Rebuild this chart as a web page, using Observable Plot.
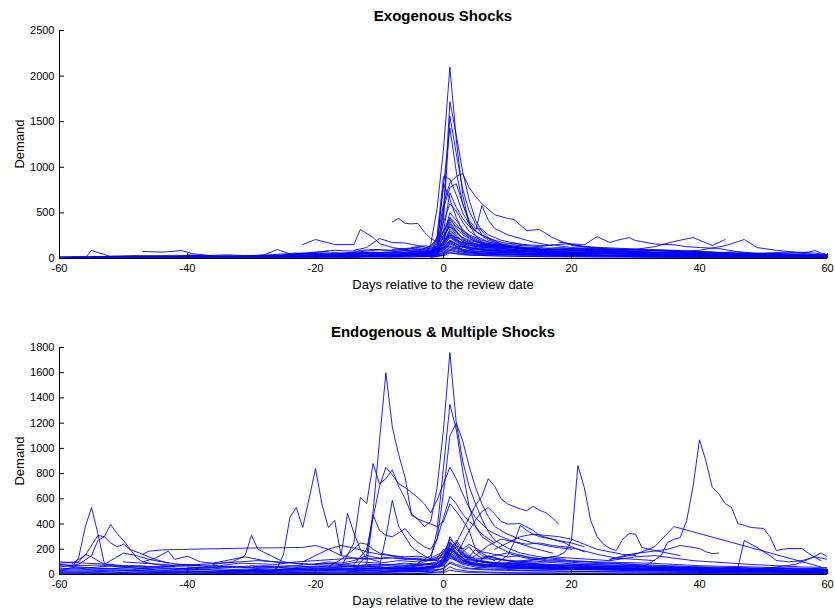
<!DOCTYPE html>
<html>
<head>
<meta charset="utf-8">
<script src="https://cdn.jsdelivr.net/npm/d3@7"></script>
<script src="https://cdn.jsdelivr.net/npm/@observablehq/plot@0.6"></script>
<style>
  html, body { margin: 0; padding: 0; background: #fff; }
  #wrap { position: relative; width: 835px; height: 613px; background: #fff; overflow: hidden;
          font-family: "Liberation Sans", Arial, Helvetica, sans-serif; }
  .panel { position: absolute; left: 0; }
  #overlay { position: absolute; left: 0; top: 0; pointer-events: none; }
</style>
</head>
<body>
<div id="wrap">
  <div class="panel" id="top" style="top:0px"></div>
  <div class="panel" id="bottom" style="top:300px"></div>
</div>
<script>
// ---------------- tick labels ----------------
const xTicks = [-60, -40, -20, 0, 20, 40, 60];
const exoYTicks = [0, 500, 1000, 1500, 2000, 2500];
const endoYTicks = [0, 200, 400, 600, 800, 1000, 1200, 1400, 1600, 1800];

const exoTitle = "Exogenous Shocks";
const endoTitle = "Endogenous & Multiple Shocks";
const xLabel = "Days relative to the review date";
const yLabel = "Demand";

// ---------------- Exogenous shocks: series of [day, demand] ----------------
const exoBigSpikes = [
  [[-5,30],[-3,40],[-2,150],[-1,550],[0,1200],[1,2100],[2,1300],[3,700],[4,380],[5,250],[6,180],[8,130],[10,100],[13,80],[16,65],[20,55]],
  [[-4,20],[-2,40],[-1,120],[0,500],[1,1720],[2,1350],[3,950],[4,650],[5,420],[6,300],[7,230],[9,160],[12,120],[15,90],[19,70],[24,55]],
  [[-3,30],[-1,90],[0,420],[1,1560],[2,1150],[3,760],[4,520],[5,380],[6,260],[8,180],[10,130],[14,90],[18,70]],
  [[-2,40],[-1,200],[0,800],[1,1430],[2,950],[3,600],[4,400],[5,300],[7,200],[10,140],[14,100]],
  [[-3,60],[-1,200],[0,600],[1,830],[2,900],[3,930],[4,780],[5,680],[6,600],[8,480],[10,440],[11,427],[13,307],[15,318],[17,230],[19,170],[22,130],[25,110]]
];
const exoMidSpikes = [
  [[-2,50],[-1,250],[0,900],[1,870],[2,700],[3,500],[4,380],[5,300],[7,220],[9,180],[12,140]],
  [[-1,100],[0,550],[1,780],[2,820],[3,600],[4,420],[5,330],[6,320],[7,260],[9,200],[11,170],[13,150]],
  [[-1,150],[0,820],[1,650],[2,450],[3,300],[4,220],[6,160],[8,120]],
  [[-2,30],[0,300],[1,720],[2,560],[3,440],[4,350],[5,300],[6,580],[7,420],[8,330],[10,260],[12,220],[14,180],[17,140]],
  [[-1,80],[0,400],[1,600],[2,520],[3,400],[4,300],[5,250],[7,180],[10,130],[15,100]],
  [[-1,60],[0,250],[1,500],[2,420],[3,320],[4,250],[6,180],[8,150],[11,120]],
  [[0,200],[1,450],[2,380],[3,280],[5,200],[7,150],[10,110]],
  [[-4,80],[-2,140],[0,300],[1,420],[2,350],[4,260],[6,200],[9,150],[12,120],[15,110]]
];
const exoScattered = [
  [[-8,400],[-7,440],[-6,385],[-5,380],[-4,385],[-3,290],[-2,220],[-1,180],[0,250],[1,350],[2,300],[3,220],[5,160],[8,120]],
  [[-22,153],[-20,208],[-17,153],[-14,153],[-13,318],[-11,230],[-10,164],[-8,120],[-5,90],[-2,80],[0,120],[1,200],[3,120]],
  [[-14,90],[-12,120],[-10,219],[-8,175],[-6,170],[-4,142],[-2,110],[0,160],[1,250],[2,200],[4,140]],
  [[-30,30],[-28,40],[-26,99],[-24,50],[-21,60],[-18,80]],
  [[-56,5],[-55,88],[-52,22],[-48,15],[-44,20]],
  [[-47,77],[-44,70],[-42,80],[-41,88],[-39,50],[-36,30]],
  [[18,180],[20,160],[22,150],[24,240],[26,175],[27,197],[29,230],[30,197],[33,160],[36,150],[38,130],[40,120],[43,110],[47,60],[50,40]],
  [[20,140],[25,110],[30,100],[33,130],[36,186],[39,230],[42,142],[44,208]],
  [[35,60],[40,90],[44,140],[47,208],[49,120],[52,90],[55,70],[58,60],[60,40]],
  [[50,50],[54,60],[57,70],[58,88],[59,60],[60,40]]
];
const exoLowBand = [
  [[-60,5],[-55,10],[-50,15],[-45,20],[-40,25],[-35,30],[-30,25],[-25,35],[-20,45],[-15,50],[-10,60],[-5,70],[-2,80],[0,150],[1,300],[2,220],[3,160],[5,130],[8,110],[12,100],[16,95],[20,90],[25,80],[30,70],[35,65],[40,55],[45,50],[50,40],[55,30],[60,25]],
  [[-58,15],[-52,20],[-46,12],[-40,30],[-36,20],[-30,35],[-26,30],[-22,50],[-18,40],[-14,70],[-10,55],[-6,90],[-3,60],[-1,110],[0,250],[1,350],[2,260],[3,180],[4,150],[6,120],[9,140],[12,110],[15,100],[18,120],[22,100],[26,90],[30,100],[34,80],[38,70],[42,60],[46,75],[50,50],[54,45],[58,40],[60,30]],
  [[-50,8],[-44,10],[-38,20],[-32,15],[-28,25],[-24,20],[-20,30],[-16,45],[-12,40],[-8,50],[-4,45],[-2,60],[0,120],[1,200],[2,160],[4,100],[6,90],[10,70],[14,60],[18,55],[24,50],[30,45],[36,40],[42,35],[48,30],[54,20],[60,15]],
  [[-40,40],[-38,35],[-35,25],[-30,20],[-25,40],[-20,70],[-17,90],[-14,80],[-11,100],[-8,90],[-5,110],[-3,100],[-1,130],[0,180],[1,260],[2,200],[3,170],[5,160],[7,150],[10,130],[13,150],[16,140],[19,160],[22,130],[25,120],[28,110],[32,100],[36,90],[40,80],[44,60],[48,50],[52,45],[56,35],[60,20]],
  [[-30,10],[-25,15],[-20,25],[-15,20],[-10,30],[-6,25],[-3,40],[-1,60],[0,100],[1,140],[2,110],[3,80],[5,60],[8,50],[12,40],[16,35],[20,30],[26,25],[32,20],[40,18],[50,12],[60,10]],
  [[-25,30],[-22,45],[-19,60],[-16,50],[-13,75],[-10,95],[-7,80],[-4,100],[-2,90],[0,140],[1,230],[2,180],[3,150],[4,130],[6,110],[8,100],[11,90],[14,85],[17,80],[20,75],[24,70],[28,65],[33,60],[38,50],[43,45],[48,40],[53,35],[58,30]],
  [[-20,20],[-17,30],[-14,25],[-11,40],[-8,35],[-5,55],[-2,45],[0,80],[1,160],[2,130],[3,100],[4,85],[6,70],[9,65],[13,55],[17,60],[21,50],[25,55],[30,45],[35,40],[40,35],[45,30],[50,25],[55,20],[60,15]],
  [[-15,60],[-12,55],[-9,70],[-6,65],[-3,80],[-1,90],[0,170],[1,320],[2,240],[3,190],[4,160],[5,140],[7,120],[9,110],[12,95],[15,90],[18,85],[22,80],[26,70],[30,75],[35,65],[40,60],[45,55],[50,45],[55,40]],
  [[-10,40],[-7,50],[-4,60],[-2,70],[-1,90],[0,190],[1,400],[2,300],[3,210],[4,170],[5,150],[7,130],[9,120],[12,110],[16,100],[20,95],[24,90],[28,85],[32,70],[36,60],[40,50]],
  [[-55,20],[-50,25],[-45,30],[-42,35],[-38,30],[-34,40],[-30,30],[-26,45],[-23,60],[-20,50],[-17,65],[-14,55],[-11,70],[-8,60],[-5,75],[-3,70],[-1,80],[0,110],[1,170],[2,140],[4,110],[7,90],[10,80],[14,75],[18,70],[22,65],[27,60],[32,55],[37,50],[42,45],[47,40],[52,35],[57,30],[60,28]],
  [[-8,100],[-6,110],[-4,120],[-2,100],[-1,130],[0,300],[1,450],[2,330],[3,260],[4,220],[5,190],[6,170],[8,150],[10,135],[13,125],[16,115],[19,110],[22,100],[26,95],[30,90],[34,85],[38,75],[42,70],[46,60],[50,55],[54,50],[58,45],[60,40]],
  [[0,60],[1,130],[2,120],[3,90],[5,80],[8,70],[12,60],[16,50],[20,45],[25,40],[30,35],[35,30],[40,28],[45,25],[50,20],[55,18],[60,15]],
  [[-35,15],[-30,12],[-25,20],[-20,15],[-15,30],[-10,25],[-5,35],[-2,30],[0,50],[1,90],[2,70],[3,55],[5,45],[10,40],[15,35],[20,40],[25,30],[30,25],[35,22],[40,20],[45,18],[50,15],[55,12],[60,10]],
  [[-45,5],[-40,8],[-35,10],[-30,8],[-25,12],[-20,18],[-15,15],[-10,22],[-5,20],[0,30],[1,60],[2,50],[4,35],[8,30],[12,25],[18,22],[24,20],[30,18],[36,15],[42,12],[48,10],[54,8],[60,5]],
  [[-5,120],[-3,140],[-2,130],[-1,160],[0,220],[1,380],[2,280],[3,230],[4,200],[5,180],[7,160],[9,150],[11,170],[13,140],[15,130],[17,150],[20,120],[23,110],[26,100],[30,95],[34,90],[38,80],[42,70]],
  [[10,60],[14,80],[18,100],[22,110],[26,100],[30,80],[34,90],[38,70],[42,60],[46,50],[50,60],[54,70],[57,50],[60,30]]
];
const exoBaseBand = [
  [[-60,2],[-50,5],[-40,8],[-30,10],[-25,15],[-20,20],[-15,25],[-10,30],[-5,35],[-2,40],[0,60],[1,100],[2,80],[4,60],[8,50],[12,45],[16,42],[20,40],[25,38],[30,35],[35,32],[40,30],[45,25],[50,22],[55,18],[60,15]],
  [[-60,12],[-54,8],[-48,18],[-42,14],[-36,22],[-30,18],[-26,28],[-22,24],[-18,35],[-14,30],[-10,45],[-6,40],[-3,50],[-1,55],[0,90],[1,180],[2,140],[3,100],[5,80],[7,70],[10,60],[14,55],[18,60],[22,50],[26,55],[30,45],[34,42],[38,38],[42,35],[46,30],[50,28],[54,25],[58,20],[60,18]],
  [[-52,25],[-48,30],[-44,25],[-40,20],[-36,15],[-32,20],[-28,15],[-24,25],[-20,40],[-16,35],[-12,55],[-8,45],[-5,60],[-3,55],[-1,70],[0,130],[1,240],[2,190],[3,140],[4,115],[6,100],[8,90],[11,80],[14,70],[17,65],[20,60],[24,58],[28,55],[32,50],[36,45],[40,42],[44,38],[48,35],[52,30],[56,25],[60,20]],
  [[-24,5],[-20,10],[-16,8],[-12,15],[-8,12],[-4,18],[-1,22],[0,40],[1,70],[2,55],[4,40],[7,30],[11,25],[16,20],[22,18],[28,15],[34,12],[40,10],[46,8],[52,6],[60,4]],
  [[-18,30],[-15,40],[-12,35],[-9,50],[-6,45],[-3,65],[-1,75],[0,110],[1,190],[2,160],[3,130],[5,110],[8,95],[11,85],[14,75],[18,70],[22,65],[26,60],[30,55],[35,48],[40,45],[45,40],[50,35],[55,30],[60,25]],
  [[-60,20],[-56,22],[-52,18],[-48,25],[-44,20],[-40,15],[-36,18],[-32,12],[-28,20],[-24,30],[-20,25],[-16,20],[-12,28],[-8,25],[-4,30],[-1,35],[0,70],[1,120],[2,95],[3,70],[5,55],[8,48],[12,40],[16,38],[20,35],[25,30],[30,28],[35,25],[40,22],[45,20],[50,18],[55,15],[60,12]],
  [[-3,20],[-1,40],[0,160],[1,280],[2,210],[3,150],[4,120],[6,95],[9,80],[12,75],[15,80],[18,70],[21,68],[24,72],[27,60],[30,58],[33,52],[36,48],[39,45],[42,40],[45,38],[48,36],[51,32],[54,28],[57,25],[60,22]],
  [[-2,10],[0,40],[1,90],[2,120],[3,90],[4,70],[6,60],[9,50],[13,45],[17,40],[21,38],[25,35],[29,30],[33,28],[37,25],[41,22],[45,20],[49,16],[53,12],[57,10],[60,8]],
  [[5,150],[7,130],[9,120],[11,115],[13,110],[15,105],[17,95],[19,100],[21,90],[23,85],[25,80],[28,75],[31,70],[34,68],[37,60],[40,55],[43,50],[46,45],[49,42],[52,38],[55,35],[58,30],[60,28]],
  [[-1,50],[0,200],[1,260],[2,230],[3,200],[4,180],[5,160],[7,140],[9,130],[11,120],[13,110],[15,100],[18,95],[21,85],[24,80],[27,70],[30,65],[33,60],[36,55]]
];

// ---------------- Endogenous & multiple shocks: series of [day, demand] ----------------
const endoBigSpikes = [
  [[-14,40],[-12,150],[-11,500],[-10,1060],[-9,1600],[-8,1170],[-7,950],[-6,770],[-5,470],[-4,440],[-3,380],[-2,420],[-1,690],[0,1150],[1,1760],[2,1200],[3,900],[4,700],[5,560],[6,440],[7,340],[8,270],[10,210],[12,170],[15,140],[19,120]],
  [[-6,60],[-4,80],[-2,120],[-1,350],[0,850],[1,1350],[2,1150],[3,820],[4,540],[5,380],[6,300],[8,230],[10,180],[13,140],[16,120]],
  [[-4,90],[-2,150],[-1,280],[0,650],[1,1100],[2,1200],[3,1060],[4,860],[5,690],[6,560],[7,460],[8,380],[10,320],[12,280],[14,250],[17,220],[20,200]],
  [[-14,80],[-12,200],[-11,450],[-10,700],[-9,850],[-8,790],[-7,720],[-6,690],[-5,650],[-4,610],[-3,560],[-2,490],[-1,590],[0,720],[1,850],[2,760],[3,640],[4,530],[5,450],[6,400],[7,350],[9,300],[11,260],[14,210],[17,170]],
  [[-16,60],[-14,250],[-13,611],[-12,563],[-11,880],[-10,720],[-9,760],[-8,830],[-7,700],[-6,600],[-5,480],[-4,440],[-3,420],[-2,400],[-1,380],[0,420],[1,560],[2,500],[3,430],[4,350],[5,200],[6,150],[8,110]],
  [[-12,80],[-11,470],[-10,350],[-9,310],[-8,300],[-7,330],[-6,365],[-5,300],[-4,255],[-3,220],[-2,200],[-1,280],[0,450],[1,620],[2,560],[3,480],[4,420],[5,380],[6,320],[8,250]],
  [[-10,60],[-9,300],[-8,587],[-7,380],[-6,300],[-5,220],[-4,180],[-3,150],[-2,120],[0,100]]
];
const endoEarly = [
  [[-60,20],[-58,60],[-57,135],[-56,373],[-55,531],[-54,325],[-53,87],[-51,60],[-48,50],[-45,40]],
  [[-60,60],[-57,80],[-55,150],[-54,270],[-53,300],[-52,396],[-51,325],[-50,270],[-48,135],[-47,100],[-45,80],[-42,60]],
  [[-58,90],[-56,150],[-54,310],[-53,300],[-52,250],[-51,220],[-50,240],[-49,200],[-47,160],[-45,120],[-43,90]],
  [[-60,90],[-57,100],[-56,160],[-55,140],[-53,80],[-50,170],[-48,150],[-46,120],[-44,100],[-41,80],[-38,70]],
  [[-47,160],[-46,185],[-44,195],[-40,200],[-35,205],[-30,210],[-25,212],[-22,215],[-20,230],[-18,200],[-16,150],[-14,130],[-12,120]],
  [[-36,80],[-33,100],[-31,150],[-30,310],[-29,200],[-27,150],[-25,100],[-22,80]],
  [[-47,100],[-45,130],[-43,185],[-42,120],[-40,145],[-38,100],[-36,90],[-33,120],[-31,140],[-28,110],[-25,90]],
  [[-27,30],[-26,50],[-25,160],[-24,452],[-23,531],[-22,373],[-21,600],[-20,840],[-19,560],[-18,373],[-17,428],[-16,150],[-15,484],[-14,330],[-13,200],[-12,130],[-10,100]]
];
const endoMiddle = [
  [[1,150],[2,250],[3,350],[4,450],[5,550],[6,620],[7,760],[8,700],[9,600],[10,560],[11,540],[12,520],[13,505],[14,540],[15,510],[16,490],[17,450],[18,400]],
  [[8,200],[10,250],[12,300],[14,320],[16,310],[18,300],[20,280],[22,240],[24,200],[26,180],[28,160],[30,150]],
  [[3,100],[5,150],[7,230],[9,280],[11,260],[13,240],[15,250],[17,230],[19,220],[21,200],[24,160],[27,130],[30,120],[33,110]],
  [[2,150],[3,250],[4,350],[5,430],[6,500],[7,530],[8,480],[9,420],[10,400],[12,404],[14,350],[15,310],[17,280],[18,270],[20,250],[22,220]],
  [[8,80],[10,150],[11,250],[12,390],[13,350],[14,320],[15,300],[17,280],[19,250],[20,220],[22,180]],
  [[-22,100],[-20,150],[-18,200],[-16,230],[-14,210],[-12,180],[-10,160],[-8,150],[-6,140],[-4,145],[-2,130],[0,180]],
  [[-18,60],[-16,120],[-14,200],[-13,250],[-12,240],[-11,200],[-10,170],[-8,150],[-6,130],[-4,120],[-2,110],[0,140]]
];
const endoLate = [
  [[12,100],[15,120],[18,150],[19,180],[20,270],[21,864],[22,690],[23,428],[24,300],[25,240],[26,206],[27,190],[28,280],[29,325],[30,320],[31,214],[33,190],[35,170],[37,150]],
  [[30,50],[32,80],[34,150],[35,254],[36,280],[37,293],[38,428],[39,700],[40,1068],[41,900],[42,690],[43,642],[44,563],[45,531],[46,404],[47,390],[48,373],[50,365],[51,300],[52,190],[53,200],[54,206],[56,206],[57,170],[58,135],[59,110]],
  [[26,120],[30,160],[33,220],[36,380],[59,60]],
  [[26,120],[29,160],[32,180],[35,200],[37,230],[39,215],[40,206],[41,180],[42,166],[43,170]],
  [[40,20],[44,30],[46,55],[47,270],[48,240],[49,214],[51,150],[52,111],[54,100],[56,110],[58,140],[60,120]],
  [[48,40],[52,60],[55,80],[57,120],[59,170],[60,140]]
];
const endoLowBand = [
  [[-60,100],[-58,95],[-56,90],[-54,85],[-52,80],[-50,70],[-47,65],[-44,60],[-41,80],[-38,75],[-35,70],[-32,90],[-29,85],[-26,80],[-23,100],[-20,110],[-17,120],[-14,130],[-11,125],[-8,130],[-5,120],[-3,110],[-1,115],[0,150],[1,200],[2,160],[3,140],[5,130],[8,120],[11,110],[14,100],[18,110],[22,100],[26,90],[30,80],[35,70],[40,60],[45,55],[50,50],[55,45],[60,40]],
  [[-60,70],[-57,60],[-54,50],[-51,45],[-48,40],[-45,55],[-42,50],[-39,45],[-36,60],[-33,55],[-30,70],[-27,60],[-24,50],[-21,65],[-18,70],[-15,60],[-12,80],[-9,75],[-6,90],[-3,80],[-1,100],[0,180],[1,260],[2,200],[3,150],[4,120],[6,100],[9,90],[12,80],[16,70],[20,75],[24,65],[28,60],[33,55],[38,50],[43,45],[48,40],[53,35],[58,30],[60,25]],
  [[-60,50],[-56,40],[-52,35],[-48,30],[-44,25],[-40,30],[-36,25],[-32,35],[-28,30],[-24,40],[-20,35],[-16,45],[-12,40],[-8,50],[-4,45],[-2,60],[0,120],[1,300],[2,220],[3,160],[4,130],[5,110],[7,95],[10,80],[13,70],[17,60],[21,55],[25,50],[30,45],[35,40],[40,35],[45,30],[50,25],[55,20],[60,15]],
  [[-60,30],[-55,25],[-50,20],[-45,18],[-40,22],[-35,20],[-30,25],[-25,22],[-20,30],[-15,28],[-10,35],[-5,30],[-2,40],[0,80],[1,150],[2,120],[3,90],[5,70],[8,60],[12,50],[16,45],[20,40],[25,38],[30,35],[35,30],[40,28],[45,25],[50,20],[55,18],[60,15]],
  [[-60,15],[-54,12],[-48,10],[-42,15],[-36,12],[-30,18],[-24,15],[-18,20],[-12,18],[-6,25],[-2,20],[0,50],[1,100],[2,80],[4,50],[8,40],[14,30],[20,25],[26,22],[32,20],[38,18],[44,15],[50,12],[56,10],[60,8]],
  [[-60,5],[-50,8],[-40,5],[-30,10],[-20,8],[-10,12],[-3,10],[0,25],[1,60],[2,40],[4,25],[10,15],[20,12],[30,10],[40,8],[50,6],[60,5]],
  [[-40,60],[-37,50],[-34,65],[-31,55],[-28,70],[-25,60],[-22,75],[-19,90],[-16,80],[-13,100],[-10,90],[-7,110],[-4,100],[-2,120],[0,160],[1,280],[2,230],[3,200],[4,240],[5,210],[6,180],[8,160],[10,140],[12,150],[14,130],[17,120],[20,110],[24,100],[28,95],[32,90],[36,80],[40,70],[44,65],[48,60],[52,55],[56,50],[60,45]],
  [[-30,40],[-27,35],[-24,45],[-21,55],[-18,50],[-15,65],[-12,60],[-9,70],[-6,65],[-3,75],[-1,85],[0,130],[1,200],[2,250],[3,180],[4,140],[5,200],[6,170],[7,140],[9,120],[11,100],[14,90],[17,95],[20,85],[23,80],[27,75],[31,70],[35,65],[39,55],[43,50],[47,45],[51,40],[55,35],[60,30]],
  [[-20,80],[-18,100],[-16,90],[-14,110],[-12,150],[-10,130],[-8,140],[-6,120],[-4,130],[-2,110],[-1,130],[0,200],[1,150],[2,120],[3,180],[4,220],[5,160],[6,130],[8,150],[10,170],[12,140],[14,120],[16,110],[19,100],[22,90],[26,85],[30,80]],
  [[-10,20],[-7,30],[-4,40],[-2,50],[-1,70],[0,100],[1,230],[2,180],[3,130],[4,100],[5,90],[7,80],[10,70],[13,60],[16,55],[20,50],[25,45],[30,40],[35,38],[40,35],[45,30],[50,28],[55,25],[60,20]],
  [[-50,100],[-47,90],[-44,80],[-41,70],[-38,80],[-35,90],[-32,100],[-29,110],[-26,100],[-23,90],[-20,80],[-17,85],[-14,70],[-11,60],[-8,55],[-5,50],[-2,55],[0,70],[1,130],[2,110],[3,90],[5,75],[8,65],[12,60],[16,70],[20,60],[24,55],[28,50],[32,45],[36,50],[40,40],[44,35],[48,30]],
  [[-60,40],[-57,45],[-54,60],[-51,70],[-48,60],[-45,50],[-42,45],[-39,55],[-36,50],[-33,40],[-30,45],[-27,55],[-24,50],[-21,45],[-18,55],[-15,50],[-12,60],[-9,55],[-6,70],[-3,65],[-1,60],[0,90],[1,170],[2,140],[3,110],[5,90],[7,150],[9,120],[11,100],[13,90],[16,80],[19,75],[22,80],[26,70],[30,65],[34,60],[38,55],[42,50],[46,45],[50,40],[54,45],[58,40],[60,35]],
  [[0,40],[1,210],[2,160],[3,110],[4,90],[6,70],[9,60],[13,50],[18,45],[24,40],[30,35],[36,30],[42,28],[48,25],[54,20],[60,18]],
  [[-5,60],[-3,80],[-1,70],[0,110],[1,190],[2,270],[3,200],[4,150],[5,120],[7,100],[9,90],[12,85],[15,80],[18,75],[22,70],[26,65],[30,60],[34,55],[38,50],[42,45],[46,40],[50,35],[55,30],[60,28]],
  [[5,50],[8,80],[11,100],[14,120],[17,140],[20,130],[23,120],[26,110],[30,140],[33,150],[36,130],[39,110],[42,100],[45,90],[48,80],[52,70],[56,60],[60,55]]
];
const endoBaseBand = [
  [[-60,10],[-56,15],[-52,12],[-48,20],[-44,18],[-40,25],[-36,20],[-32,28],[-28,25],[-24,30],[-20,28],[-16,35],[-12,30],[-8,40],[-4,35],[-2,45],[0,70],[1,140],[2,110],[3,80],[5,60],[8,50],[12,45],[16,40],[20,38],[25,35],[30,30],[35,28],[40,25],[45,22],[50,20],[55,18],[60,15]],
  [[-60,25],[-55,30],[-50,35],[-45,28],[-40,40],[-35,35],[-30,30],[-25,38],[-20,45],[-15,40],[-10,50],[-6,45],[-3,55],[-1,60],[0,100],[1,190],[2,150],[3,110],[4,90],[6,75],[9,65],[12,60],[15,55],[19,50],[23,48],[27,45],[31,40],[35,38],[39,35],[43,30],[47,28],[51,25],[55,22],[60,20]],
  [[-60,3],[-50,5],[-40,3],[-30,6],[-20,5],[-10,8],[-5,6],[0,15],[1,35],[2,25],[4,15],[10,10],[20,8],[30,6],[40,5],[50,4],[60,3]],
  [[-58,55],[-55,50],[-52,45],[-49,55],[-46,40],[-43,35],[-40,45],[-37,40],[-34,30],[-31,35],[-28,45],[-25,40],[-22,35],[-19,45],[-16,40],[-13,50],[-10,45],[-7,55],[-4,50],[-2,60],[0,110],[1,240],[2,170],[3,120],[4,95],[6,80],[8,70],[11,60],[14,55],[17,50],[21,48],[25,45],[29,42],[33,40],[37,38],[41,35],[45,32],[49,30],[53,28],[57,25],[60,22]],
  [[-45,10],[-40,12],[-35,15],[-30,12],[-25,18],[-20,15],[-15,20],[-10,18],[-5,22],[-2,25],[0,45],[1,90],[2,70],[3,50],[5,40],[8,35],[12,30],[16,28],[20,25],[25,22],[30,20],[35,18],[40,16],[45,14],[50,12],[55,10],[60,8]],
  [[-15,20],[-12,30],[-9,25],[-6,35],[-3,30],[-1,40],[0,90],[1,180],[2,220],[3,170],[4,130],[5,110],[7,90],[9,80],[12,70],[15,65],[18,60],[21,55],[24,50],[28,48],[32,45],[36,40],[40,38],[44,35],[48,30],[52,28],[56,25],[60,22]],
  [[-8,30],[-5,40],[-3,50],[-1,80],[0,140],[1,250],[2,200],[3,160],[4,130],[5,110],[6,100],[8,90],[10,85],[13,80],[16,75],[19,70],[22,65],[25,60],[28,55],[31,50],[34,48],[37,45],[40,40]],
  [[-35,30],[-32,25],[-29,35],[-26,30],[-23,40],[-20,35],[-17,45],[-14,40],[-11,50],[-8,45],[-5,55],[-3,50],[-1,65],[0,100],[1,160],[2,130],[3,100],[5,85],[7,75],[10,68],[13,62],[16,58],[20,55],[24,52],[28,50],[32,46],[36,42],[40,40],[44,36],[48,34],[52,30],[56,28],[60,25]],
  [[10,40],[13,50],[16,60],[19,55],[22,65],[25,60],[28,70],[31,65],[34,60],[37,55],[40,60],[43,50],[46,55],[49,45],[52,50],[55,40],[58,45],[60,38]],
  [[-60,80],[-57,70],[-54,75],[-51,65],[-48,70],[-45,60],[-42,65],[-39,70],[-36,60],[-33,65],[-30,55],[-27,60],[-24,70],[-21,60],[-18,65],[-15,75],[-12,70],[-9,80],[-6,75],[-3,85],[-1,90],[0,130],[1,210],[2,170],[3,130],[4,110],[6,100],[9,90],[12,85],[15,80]]
];

// ---------------- build tidy rows ----------------
function toRows(groups) {
  const out = [];
  let id = 0;
  for (const g of groups) for (const s of g) {
    id++;
    for (const [day, value] of s) out.push({id, day, value});
  }
  return out;
}
const exoRows = toRows([exoBaseBand, exoLowBand, exoScattered, exoMidSpikes, exoBigSpikes]);
const endoRows = toRows([endoBaseBand, endoLowBand, endoEarly, endoMiddle, endoLate, endoBigSpikes]);

const FONT = '"Liberation Sans", Arial, Helvetica, sans-serif';

function panel(rows, yMax, yTicks, height, marginTop, marginBottom) {
  return Plot.plot({
    width: 835,
    height,
    marginLeft: 59,
    marginRight: 8,
    marginTop,
    marginBottom,
    x: {domain: [-60, 60], axis: null},
    y: {domain: [0, yMax], axis: null},
    style: {fontFamily: FONT, fontSize: "11px", color: "#000", background: "#fff", overflow: "visible"},
    marks: [
      Plot.ruleY([0], {stroke: "#000"}),
      Plot.ruleX([-60], {stroke: "#000"}),
      Plot.line(rows, {x: "day", y: "value", z: "id", stroke: "#0000ff", strokeWidth: 1, strokeOpacity: 0.88, clip: true}),
      Plot.axisX({ticks: xTicks, label: null, tickSize: -5, tickPadding: 11, tickFormat: d => String(d), fontSize: 11}),
      Plot.axisY({ticks: yTicks, label: null, tickSize: -5, tickPadding: 10, tickFormat: d => String(d), fontSize: 11})
    ]
  });
}

document.getElementById("top").appendChild(panel(exoRows, 2500, exoYTicks, 300, 30, 42));
document.getElementById("bottom").appendChild(panel(endoRows, 1800, endoYTicks, 313, 47, 39));

// ---------------- titles and axis labels ----------------
const svg = d3.select("#wrap").append("svg")
  .attr("id", "overlay").attr("width", 835).attr("height", 613)
  .style("font-family", FONT);
const labels = [
  {text: exoTitle, x: 443, y: 21, size: 15, weight: "bold"},
  {text: endoTitle, x: 443, y: 337, size: 15, weight: "bold"},
  {text: xLabel, x: 443, y: 289, size: 13, weight: "normal"},
  {text: xLabel, x: 443, y: 605, size: 13, weight: "normal"}
];
for (const l of labels) {
  svg.append("text").attr("x", l.x).attr("y", l.y).attr("text-anchor", "middle")
    .attr("font-size", l.size).attr("font-weight", l.weight).attr("fill", "#000").text(l.text);
}
for (const cy of [144, 461]) {
  svg.append("text").attr("transform", `translate(23.5,${cy}) rotate(-90)`).attr("text-anchor", "middle")
    .attr("font-size", 13).attr("fill", "#000").text(yLabel);
}
</script>
</body>
</html>
